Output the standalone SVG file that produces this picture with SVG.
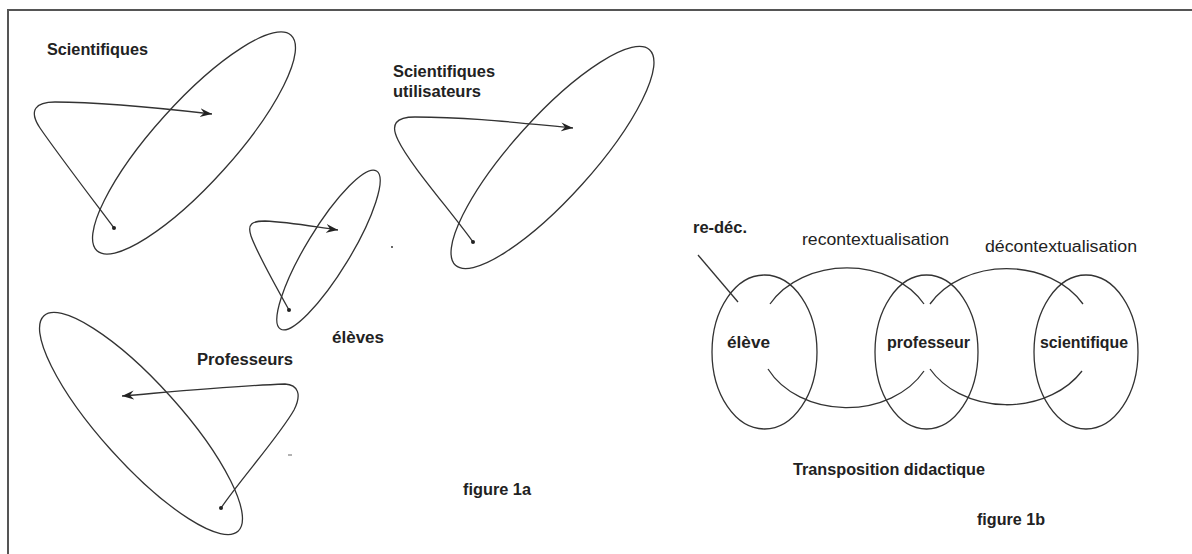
<svg xmlns="http://www.w3.org/2000/svg" width="1192" height="554" viewBox="0 0 1192 554">
<defs>
<marker id="arr" markerUnits="userSpaceOnUse" markerWidth="14" markerHeight="10" refX="12" refY="5" orient="auto">
<path d="M0,0.5 L12,5 L0,9.5 L4,5 Z" fill="#222"/>
</marker>
<style>
.ell{fill:none;stroke:#333;stroke-width:1.3}
.loop{fill:none;stroke:#333;stroke-width:1.3}
.dot{fill:#222}
.t{font-family:"Liberation Sans",Arial,sans-serif;fill:#222;font-weight:bold;font-size:16px}
.r{font-weight:normal}
.frame{stroke:#555;stroke-width:2;fill:none}
</style>
</defs>
<rect width="1192" height="554" fill="#fff"/>
<path class="frame" d="M8,554 L8,10 L1192,10"/>

<!-- figure 1a -->
<g id="scientifiques">
<ellipse class="ell" cx="194" cy="143" rx="145" ry="40" transform="rotate(-48 194 143)"/>
<text class="t" x="47" y="55" textLength="101" lengthAdjust="spacingAndGlyphs">Scientifiques</text>
</g>
<g id="scientifiques-utilisateurs">
<ellipse class="ell" cx="552.5" cy="157.5" rx="145" ry="40" transform="rotate(-48 552.5 157.5)"/>
<text class="t" x="393" y="77" textLength="102" lengthAdjust="spacingAndGlyphs">Scientifiques</text>
<text class="t" x="393" y="97" textLength="88" lengthAdjust="spacingAndGlyphs">utilisateurs</text>
</g>
<g id="eleves">
<ellipse class="ell" cx="328.5" cy="250" rx="92.5" ry="22" transform="rotate(-58.7 328.5 250)"/>
<text class="t" x="332" y="343" textLength="52" lengthAdjust="spacingAndGlyphs">élèves</text>
</g>
<g id="professeurs">
<ellipse class="ell" cx="141" cy="423.5" rx="145" ry="40" transform="rotate(48 141 423.5)"/>
<text class="t" x="197" y="365" textLength="96" lengthAdjust="spacingAndGlyphs">Professeurs</text>
</g>
<g id="connectors-1a">
<path class="loop" marker-end="url(#arr)" d="M114,228 C90,196 55,150 40,128 C28,110 36,102 55,102 C100,102 160,108 212,114"/>
<circle class="dot" cx="114" cy="228" r="2"/>
<path class="loop" marker-end="url(#arr)" d="M473,242 C450,210 410,165 398,140 C390,124 396,117 415,117 C470,117 520,123 573,128"/>
<circle class="dot" cx="473" cy="242" r="2"/>
<path class="loop" marker-end="url(#arr)" d="M289,310 C275,285 256,250 251,236 C247,224 252,221 265,221 C290,222 315,227 338,230"/>
<circle class="dot" cx="289" cy="310" r="2"/>
<path class="loop" marker-end="url(#arr)" d="M221,508 C240,480 280,435 294,410 C302,394 298,385 285,384 C230,386 170,392 122,396"/>
<circle class="dot" cx="221" cy="508" r="2"/>
</g>
<circle class="dot" cx="392" cy="247" r="0.9"/>
<line x1="288" y1="455" x2="292" y2="455" stroke="#666" stroke-width="1"/>
<text class="t" x="463" y="495" font-size="15" textLength="68" lengthAdjust="spacingAndGlyphs">figure 1a</text>

<!-- figure 1b -->
<g id="eleve">
<ellipse class="ell" cx="764.5" cy="352" rx="52.5" ry="77"/>
<text class="t" x="727" y="348" textLength="43" lengthAdjust="spacingAndGlyphs">élève</text>
</g>
<g id="professeur">
<ellipse class="ell" cx="926.5" cy="352" rx="51.5" ry="77"/>
<text class="t" x="887" y="348" textLength="83" lengthAdjust="spacingAndGlyphs">professeur</text>
</g>
<g id="scientifique">
<ellipse class="ell" cx="1086" cy="352" rx="52" ry="77"/>
<text class="t" x="1040" y="348" textLength="88" lengthAdjust="spacingAndGlyphs">scientifique</text>
</g>
<g id="connectors-1b">
<path class="loop" d="M770,304 A88,70 0 0 1 924,304"/>
<path class="loop" d="M768,369 A88,70 0 0 0 924,371"/>
<path class="loop" d="M930,304 A88,70 0 0 1 1083,304"/>
<path class="loop" d="M930,369 A88,70 0 0 0 1082,371"/>
<line class="loop" x1="698" y1="255" x2="738" y2="302"/>
</g>
<text class="t" x="693" y="233" font-size="15" textLength="54" lengthAdjust="spacingAndGlyphs">re-déc.</text>
<text class="t r" x="802" y="245" font-size="15" textLength="147" lengthAdjust="spacingAndGlyphs">recontextualisation</text>
<text class="t r" x="985" y="252" font-size="15" textLength="152" lengthAdjust="spacingAndGlyphs">décontextualisation</text>
<text class="t" x="793" y="475" textLength="192" lengthAdjust="spacingAndGlyphs">Transposition didactique</text>
<text class="t" x="977" y="525" font-size="15" textLength="68" lengthAdjust="spacingAndGlyphs">figure 1b</text>
</svg>
